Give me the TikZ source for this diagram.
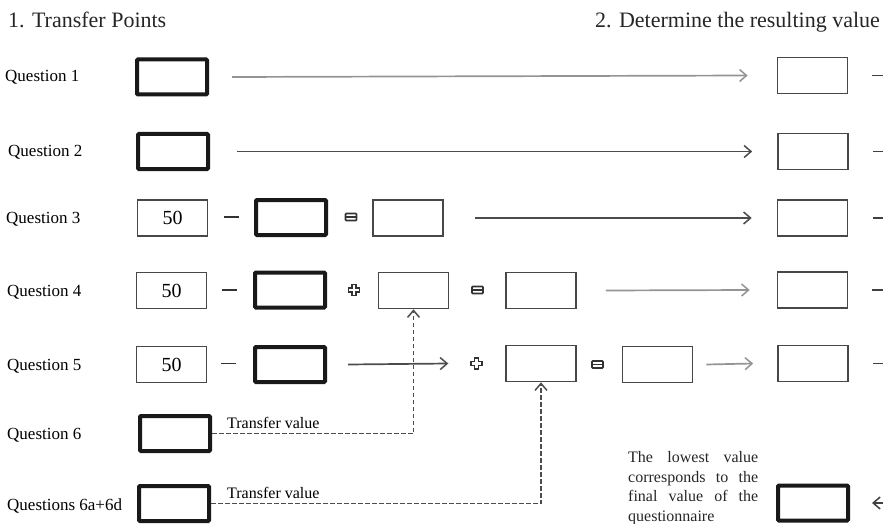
\documentclass[tikz,border=0pt]{standalone}
\usepackage{fontspec}
\setmainfont{Liberation Serif}
\usetikzlibrary{arrows.meta}
\begin{document}
\begin{tikzpicture}[x=1pt,y=-1pt,
  thinbox/.style={draw=black!72, line width=1.6, minimum width=70, minimum height=36, inner sep=0, font=\fontsize{20}{24}\selectfont},
  thickbox/.style={draw=black!90, line width=4, minimum width=70, minimum height=35, inner sep=0, rounded corners=1},
  qlabel/.style={anchor=base west, inner sep=0, font=\fontsize{17}{20}\selectfont},
  title/.style={anchor=base west, inner sep=0, font=\fontsize{22}{26}\selectfont, text=black!85},
  tvlabel/.style={anchor=base west, inner sep=0, font=\fontsize{16}{19}\selectfont},
  arr/.style={line width=1.7, -{Straight Barb[length=7, width=12, line width=1.5]}},
  darkarr/.style={arr, draw=black!70},
  lightarr/.style={arr, draw=black!42},
  stub/.style={line width=1.6, draw=black!75},
  dconn/.style={line width=1.8, draw=black!70, dash pattern=on 4.5 off 2.5, -{Straight Barb[length=7, width=12, line width=1.5]}},
  plussym/.pic={\draw[line width=1.4, draw=black!80] (-2,-5.5) -- (2,-5.5) -- (2,-2) -- (5.5,-2) -- (5.5,2) -- (2,2) -- (2,5.5) -- (-2,5.5) -- (-2,2) -- (-5.5,2) -- (-5.5,-2) -- (-2,-2) -- cycle;},
  eqsym/.pic={\draw[line width=1.7, draw=black!80, rounded corners=0.8] (-5.5,-3.5) rectangle (5.5,3.5); \draw[line width=1.5, draw=black!80] (-5.5,0) -- (5.5,0);},
  minussym/.pic={\draw[line width=1.7, draw=black!80] (-7.5,0) -- (7.5,0);}
]
\useasboundingbox (0,0) rectangle (883,524);
\coordinate (edge) at (883,0);

% titles
\node[title] (t1) at (8,28) {1. Transfer Points};
\node[title] (t2) at (595,28) {2. Determine the resulting value};

% labels
\node[qlabel] (l1) at (5,82) {Question 1};
\node[qlabel] (l2) at (8,157) {Question 2};
\node[qlabel] (l3) at (6,223) {Question 3};
\node[qlabel] (l4) at (7,296) {Question 4};
\node[qlabel] (l5) at (7,370) {Question 5};
\node[qlabel] (l6) at (7,439) {Question 6};
\node[qlabel] (l7) at (7,510) {Questions 6a+6d};

% row 1
\node[thickbox] (q1) at (172,77) {};
\node[thinbox] (r1) at (812.5,75.5) {};
% row 2
\node[thickbox] (q2) at (173,151.5) {};
\node[thinbox] (r2) at (813,151.5) {};
% row 3
\node[thinbox] (n3) at (172.5,218) {50};
\pic at (231,217) {minussym};
\node[thickbox] (t3) at (291,217.5) {};
\pic at (351,217) {eqsym};
\node[thinbox] (b3) at (408,218) {};
\node[thinbox] (r3) at (812.5,218) {};
% row 4
\node[thinbox] (n4) at (171.5,290.5) {50};
\pic at (229,290) {minussym};
\node[thickbox] (t4) at (290,290) {};
\pic at (354,290) {plussym};
\node[thinbox] (b4) at (413.5,290.5) {};
\pic at (477.5,290) {eqsym};
\node[thinbox] (c4) at (541,290.5) {};
\node[thinbox] (r4) at (812.5,290) {};
% row 5
\node[thinbox] (n5) at (171.5,364.5) {50};
\pic at (228.5,363.5) {minussym};
\node[thickbox] (t5) at (290,364.5) {};
\node[inner sep=0, minimum size=12] (p5) at (476.5,363.5) {};
\pic at (p5) {plussym};
\node[thinbox] (b5) at (541,363.5) {};
\pic at (597.5,364.5) {eqsym};
\node[thinbox] (c5) at (657.5,364.5) {};
\node[thinbox] (r5) at (813,363.5) {};
% row 6 / 7
\node[thickbox] (q6) at (175,433.5) {};
\node[thickbox] (q7) at (174,503.5) {};
\node[thickbox] (fin) at (813,503) {};

\node[tvlabel] (tv1) at (227,428) {Transfer value};
\node[tvlabel] (tv2) at (227,498) {Transfer value};

\node[anchor=north west, inner sep=0, align=left, font=\fontsize{16}{19.7}\selectfont, text=black!85] (note) at (628,451)
 {\makebox[130pt][s]{The lowest value}\\\makebox[130pt][s]{corresponds to the}\\\makebox[130pt][s]{final value of the}\\questionnaire};

% horizontal arrows
\draw[lightarr] ([xshift=23]q1.east) -- ([xshift=-29]r1.west);
\draw[darkarr] ([xshift=27]q2.east) -- ([xshift=-25]r2.west);
\draw[darkarr] ([xshift=31]b3.east) -- ([xshift=-25]r3.west);
\draw[lightarr] ([xshift=29]c4.east) -- ([xshift=-27]r4.west);
\draw[darkarr] ([xshift=21]t5.east) -- ([xshift=-22]p5.west);
\draw[lightarr] ([xshift=13]c5.east) -- ([xshift=-24]r5.west);

% stubs at right edge
\draw[stub] ([xshift=24]r1.east) -- (r1.east -| edge);
\draw[stub] ([xshift=24]r2.east) -- (r2.east -| edge);
\draw[stub] ([xshift=25]r3.east) -- (r3.east -| edge);
\draw[stub] ([xshift=24]r4.east) -- (r4.east -| edge);
\draw[stub] ([xshift=24]r5.east) -- (r5.east -| edge);
\draw[stub, {Straight Barb[length=7, width=12, line width=1.5]}-] ([xshift=22]fin.east) -- (fin.east -| edge);

% dashed transfers
\draw[dconn] (q6.east) -| (b4.south);
\draw[dconn] (q7.east) -| (b5.south);
\end{tikzpicture}
\end{document}
